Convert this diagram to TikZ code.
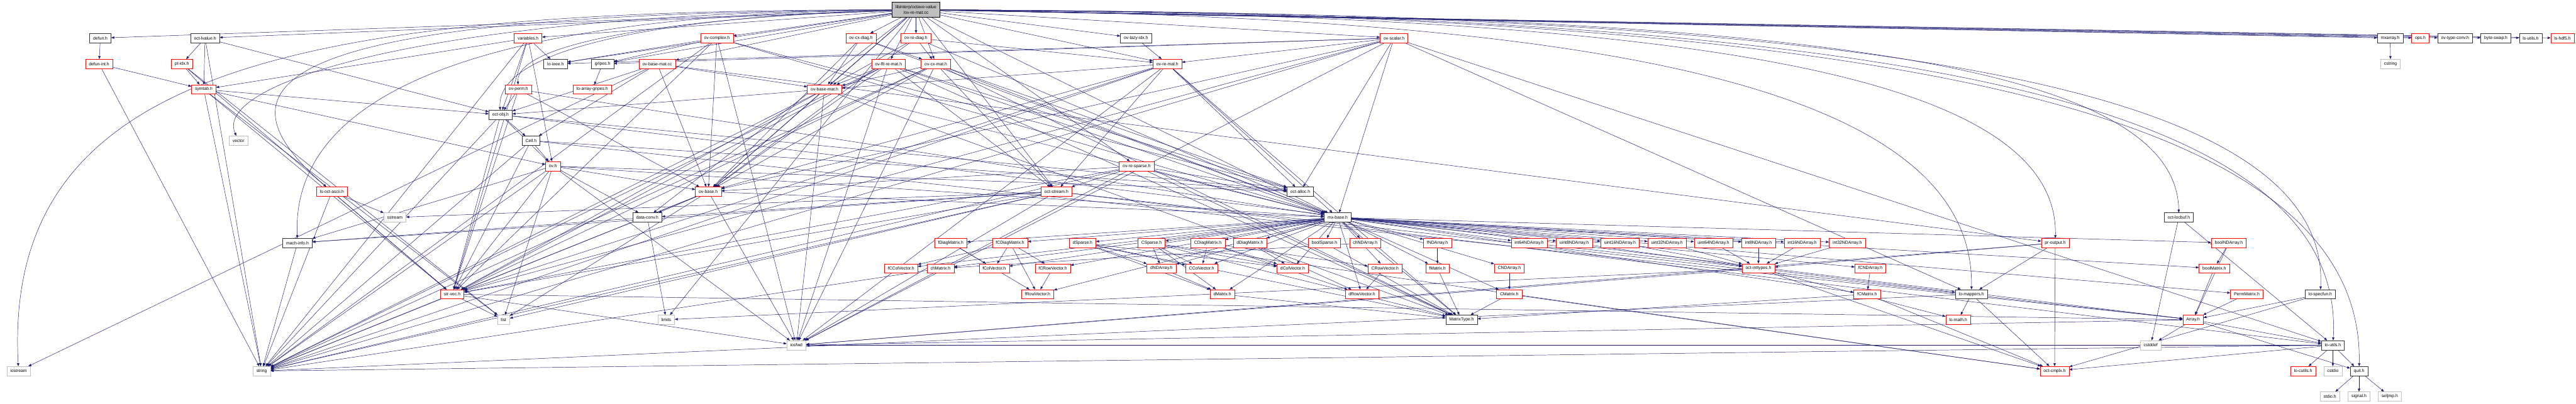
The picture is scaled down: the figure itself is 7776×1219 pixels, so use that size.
\documentclass[tikz,border=0pt]{standalone}
\usepackage{fontspec}
\setmainfont{Liberation Sans}
\usetikzlibrary{arrows.meta}
\definecolor{edgeblue}{HTML}{191970}
\definecolor{greyfill}{HTML}{BFBFBF}
\pgfdeclarelayer{bg}
\pgfsetlayers{bg,main}
\newcommand\mknode[5]{\node[#1] (#2) at (#3,-#4) {#5};}
\tikzset{
  nbox/.style={draw, line width=1pt, fill=white, font=\fontsize{13}{17}\selectfont,
    inner xsep=10.5pt, inner ysep=0pt, minimum height=28pt},
  rnode/.style={nbox, draw=red},
  bnode/.style={nbox, draw=black!80},
  gnode/.style={nbox, draw=greyfill},
  topnode/.style={nbox, draw=black, fill=greyfill, align=center, minimum height=45pt},
  dep/.style={draw=edgeblue, line width=0.9pt, -{Triangle[length=9pt,width=7pt]}}
}
\begin{document}
\begin{tikzpicture}[x=1pt,y=1pt]
\useasboundingbox (0,0) rectangle (7776,-1219);
% top
\node[topnode] (R) at (2765,-29.5) {libinterp/octave-value\\/ov-re-mat.cc};
% row 115
\mknode{bnode}{defun}{303}{115}{defun.h}
\mknode{bnode}{octlvalue}{619}{115}{oct-lvalue.h}
\mknode{rnode}{variables}{1594}{115}{variables.h}
\mknode{rnode}{ovcomplex}{2164}{115}{ov-complex.h}
\mknode{rnode}{ovcxdiag}{2599}{115}{ov-cx-diag.h}
\mknode{rnode}{ovrediag}{2765}{115}{ov-re-diag.h}
\mknode{bnode}{ovlazyidx}{3429}{115}{ov-lazy-idx.h}
\mknode{rnode}{ovscalar}{4208}{115}{ov-scalar.h}
\mknode{bnode}{mxarray}{7215}{115}{mxarray.h}
\mknode{rnode}{ops}{7306}{115}{ops.h}
\mknode{bnode}{ovtypeconv}{7411}{115}{ov-type-conv.h}
\mknode{bnode}{byteswap}{7534}{115}{byte-swap.h}
\mknode{bnode}{lsutils}{7639}{115}{ls-utils.h}
\mknode{rnode}{lshdf5}{7735}{115}{ls-hdf5.h}
% row 193
\mknode{rnode}{defunint}{299}{193}{defun-int.h}
\mknode{rnode}{ptidx}{549}{193}{pt-idx.h}
\mknode{bnode}{loieee}{1677}{193}{lo-ieee.h}
\mknode{bnode}{gripes}{1819}{193}{gripes.h}
\mknode{rnode}{ovbasematcc}{1984}{193}{ov-base-mat.cc}
\mknode{rnode}{ovfltremat}{2682}{193}{ov-flt-re-mat.h}
\mknode{rnode}{ovcxmat}{2825}{193}{ov-cx-mat.h}
\mknode{rnode}{ovremat}{3524}{193}{ov-re-mat.h}
\mknode{gnode}{cstring}{7216}{193}{cstring}
% row 270
\mknode{rnode}{symtab}{615}{270}{symtab.h}
\mknode{rnode}{ovperm}{1565}{270}{ov-perm.h}
\mknode{rnode}{loarraygripes}{1788}{270}{lo-array-gripes.h}
\mknode{rnode}{ovbasemat}{2489}{270}{ov-base-mat.h}
% row 347-502
\mknode{bnode}{octobj}{1511}{347}{oct-obj.h}
\mknode{gnode}{vector}{720}{425}{vector}
\mknode{bnode}{cell}{1603}{425}{Cell.h}
\mknode{rnode}{ovh}{1669}{502}{ov.h}
\mknode{rnode}{ovresparse}{3431}{502}{ov-re-sparse.h}
% row 579
\mknode{rnode}{lsoctascii}{1002}{579}{ls-oct-ascii.h}
\mknode{rnode}{ovbase}{2138}{579}{ov-base.h}
\mknode{rnode}{octstream}{3189}{579}{oct-stream.h}
\mknode{bnode}{octalloc}{3925}{579}{oct-alloc.h}
% row 657
\mknode{gnode}{sstream}{1192}{657}{sstream}
\mknode{bnode}{dataconv}{1954}{657}{data-conv.h}
\mknode{bnode}{mxbase}{4038}{657}{mx-base.h}
\mknode{bnode}{octlocbuf}{6577}{657}{oct-locbuf.h}
% row 734
\mknode{bnode}{machinfo}{898}{734}{mach-info.h}
\mknode{rnode}{fDiag}{2870}{734}{fDiagMatrix.h}
\mknode{rnode}{fCDiag}{3049}{734}{fCDiagMatrix.h}
\mknode{rnode}{dSparse}{3268}{734}{dSparse.h}
\mknode{rnode}{CSparse}{3476}{734}{CSparse.h}
\mknode{rnode}{CDiag}{3646}{734}{CDiagMatrix.h}
\mknode{rnode}{dDiag}{3773}{734}{dDiagMatrix.h}
\mknode{rnode}{boolSparse}{3998}{734}{boolSparse.h}
\mknode{rnode}{chND}{4121}{734}{chNDArray.h}
\mknode{rnode}{fND}{4339}{734}{fNDArray.h}
\mknode{rnode}{iSF}{4616}{734}{int64NDArray.h}
\mknode{rnode}{uE}{4752}{734}{uint8NDArray.h}
\mknode{rnode}{uS}{4890}{734}{uint16NDArray.h}
\mknode{rnode}{uT}{5032}{734}{uint32NDArray.h}
\mknode{rnode}{uSF}{5172}{734}{uint64NDArray.h}
\mknode{rnode}{iE}{5308}{734}{int8NDArray.h}
\mknode{rnode}{iS}{5440}{734}{int16NDArray.h}
\mknode{rnode}{iT}{5576}{734}{int32NDArray.h}
\mknode{rnode}{proutput}{6204}{734}{pr-output.h}
\mknode{rnode}{boolND}{6728}{734}{boolNDArray.h}
% row 811
\mknode{rnode}{fCColVec}{2720}{811}{fCColVector.h}
\mknode{rnode}{chMatrix}{2839}{811}{chMatrix.h}
\mknode{rnode}{fColVec}{3001}{811}{fColVector.h}
\mknode{rnode}{fCRowVec}{3178}{811}{fCRowVector.h}
\mknode{rnode}{dND}{3506}{811}{dNDArray.h}
\mknode{rnode}{CColVec}{3627}{811}{CColVector.h}
\mknode{rnode}{dColVec}{3902}{811}{dColVector.h}
\mknode{rnode}{CRowVec}{4181}{811}{CRowVector.h}
\mknode{rnode}{fMatrix}{4339}{811}{fMatrix.h}
\mknode{rnode}{CND}{4556}{811}{CNDArray.h}
\mknode{rnode}{octinttypes}{5308}{811}{oct-inttypes.h}
\mknode{rnode}{fCND}{5646}{811}{fCNDArray.h}
\mknode{rnode}{boolMatrix}{6684}{811}{boolMatrix.h}
% row 889
\mknode{rnode}{strvec}{1365}{889}{str-vec.h}
\mknode{rnode}{fRowVec}{3132}{889}{fRowVector.h}
\mknode{rnode}{dMatrix}{3690}{889}{dMatrix.h}
\mknode{rnode}{dRowVec}{4111}{889}{dRowVector.h}
\mknode{rnode}{CMatrix}{4556}{889}{CMatrix.h}
\mknode{rnode}{fCMatrix}{5636}{889}{fCMatrix.h}
\mknode{bnode}{lomappers}{5951}{889}{lo-mappers.h}
\mknode{rnode}{PermMatrix}{6782}{889}{PermMatrix.h}
\mknode{bnode}{lospecfun}{7004}{889}{lo-specfun.h}
% row 966
\mknode{gnode}{list}{1520}{966}{list}
\mknode{gnode}{limits}{2011}{966}{limits}
\mknode{bnode}{MatrixType}{4412}{966}{MatrixType.h}
\mknode{rnode}{lomath}{5911}{966}{lo-math.h}
\mknode{rnode}{Array}{6620}{966}{Array.h}
% row 1043
\mknode{gnode}{iosfwd}{2404}{1043}{iosfwd}
\mknode{gnode}{cstddef}{6492}{1043}{cstddef}
\mknode{bnode}{loutils}{7042}{1043}{lo-utils.h}
% row 1121
\mknode{gnode}{iostream}{56}{1121}{iostream}
\mknode{gnode}{string}{790}{1121}{string}
\mknode{rnode}{octcmplx}{6202}{1121}{oct-cmplx.h}
\mknode{rnode}{locutils}{6952}{1121}{lo-cutils.h}
\mknode{gnode}{cstdio}{7042}{1121}{cstdio}
\mknode{bnode}{quit}{7121}{1121}{quit.h}
% row 1198
\mknode{gnode}{stdio}{7033}{1198}{stdio.h}
\mknode{gnode}{signal}{7121}{1198}{signal.h}
\mknode{gnode}{setjmp}{7214}{1198}{setjmp.h}

\begin{pgfonlayer}{bg}
% edges from the top node
\foreach \b in {defun,octlvalue,variables,ovcomplex,ovcxdiag,ovrediag,ovlazyidx,ovscalar,
  mxarray,ops,ovtypeconv,byteswap,lsutils,lshdf5,loieee,gripes,ovbasematcc,ovfltremat,
  ovcxmat,ovremat,ovbasemat,ovbase,dataconv,limits,octstream,ovresparse,mxbase}
  \draw[dep] (R) -- (\b);
\draw[dep] (R) .. controls (900,-30) and (8,-200) .. (iostream);
\draw[dep] (R) .. controls (1300,-40) and (640,-250) .. (vector);
\draw[dep] (R) .. controls (1400,-45) and (880,-300) .. (machinfo);
\draw[dep] (R) .. controls (1000,-40) and (560,-200) .. (lsoctascii);
\draw[dep] (R) .. controls (2100,-45) and (1495,-130) .. (octobj);
\draw[dep] (R) .. controls (2100,-50) and (1555,-120) .. (ovperm);
\draw[dep] (R) .. controls (5200,-40) and (6570,-150) .. (octlocbuf);
\draw[dep] (R) .. controls (5000,-45) and (6215,-200) .. (proutput);
\draw[dep] (R) .. controls (4800,-50) and (5960,-250) .. (lomappers);
\draw[dep] (R) .. controls (5400,-40) and (7037,-200) .. (lospecfun);
\draw[dep] (R) .. controls (5500,-40) and (7086,-250) .. (loutils);
\draw[dep] (R) .. controls (5600,-40) and (7139,-300) .. (quit);
% other edges
\foreach \a/\b in {defun/defunint, defunint/symtab, defunint/string,
  octlvalue/ptidx, octlvalue/symtab, octlvalue/octobj, octlvalue/string,
  ptidx/symtab, ptidx/strvec, ptidx/list,
  symtab/octobj, symtab/ovh, symtab/list, symtab/string, symtab/strvec,
  variables/loieee, variables/ovh, variables/symtab, variables/string, variables/strvec, variables/octobj,
  ovcomplex/loieee, ovcomplex/gripes, ovcomplex/ovbase, ovcomplex/octalloc, ovcomplex/strvec,
  ovcomplex/mxbase, ovcomplex/iosfwd, ovcomplex/string,
  ovcxdiag/ovbasemat, ovcxdiag/ovcxmat, ovcxdiag/ovbase, ovcxdiag/mxbase,
  ovrediag/ovremat, ovrediag/ovcxmat, ovrediag/ovbase, ovrediag/ovbasemat, ovrediag/mxbase,
  ovlazyidx/ovremat,
  ovscalar/loieee, ovscalar/lomappers, ovscalar/loutils, ovscalar/mxbase, ovscalar/octalloc,
  ovscalar/strvec, ovscalar/gripes, ovscalar/ovbase, ovscalar/ovremat, ovscalar/iosfwd, ovscalar/string,
  mxarray/cstring,
  ovbasematcc/octobj, ovbasematcc/cell, ovbasematcc/ovbasemat, ovbasematcc/ovbase,
  ovbasematcc/iostream, ovbasematcc/proutput,
  gripes/loarraygripes,
  ovperm/octobj, ovperm/ovbase, ovperm/mxbase, ovperm/strvec,
  ovbasemat/iosfwd, ovbasemat/string, ovbasemat/mxbase, ovbasemat/MatrixType, ovbasemat/strvec,
  ovbasemat/octobj, ovbasemat/ovbase,
  octobj/cell, octobj/ovh, octobj/strvec, octobj/string, octobj/Array, octobj/octalloc,
  cell/ovh, cell/Array, cell/strvec, cell/octalloc, cell/string,
  ovh/iosfwd, ovh/string, ovh/list, ovh/dataconv, ovh/machinfo, ovh/mxbase, ovh/octalloc,
  ovh/strvec, ovh/ovbase,
  lsoctascii/sstream, lsoctascii/string, lsoctascii/strvec,
  ovbase/iosfwd, ovbase/list, ovbase/string, ovbase/dataconv, ovbase/mxbase, ovbase/strvec,
  octstream/iosfwd, octstream/sstream, octstream/string, octstream/Array, octstream/dataconv,
  octstream/loutils, octstream/machinfo, octstream/strvec, octstream/list,
  dataconv/limits, dataconv/machinfo,
  octlocbuf/cstddef, octlocbuf/loutils,
  machinfo/string,
  fDiag/fColVec, fDiag/fRowVec,
  fCDiag/fCColVec, fCDiag/fColVec, fCDiag/fCRowVec, fCDiag/fRowVec,
  dSparse/dND, dSparse/CColVec, dSparse/dColVec, dSparse/dMatrix, dSparse/MatrixType,
  CSparse/dND, CSparse/CColVec, CSparse/dColVec, CSparse/dMatrix, CSparse/MatrixType, CSparse/octcmplx,
  CDiag/CColVec, CDiag/dColVec, CDiag/CRowVec, CDiag/dRowVec,
  dDiag/dColVec, dDiag/dRowVec,
  boolSparse/MatrixType, chND/chMatrix, fND/fMatrix,
  iSF/octinttypes, uE/octinttypes, uS/octinttypes, uT/octinttypes, uSF/octinttypes,
  iE/octinttypes, iS/octinttypes, iT/octinttypes,
  boolND/boolMatrix, boolND/Array, chMatrix/string, fCRowVec/fRowVec, dND/dMatrix,
  CRowVec/dRowVec, fMatrix/MatrixType, CND/CMatrix,
  octinttypes/lomappers, octinttypes/lomath, octinttypes/limits, octinttypes/iosfwd, octinttypes/octcmplx,
  fCND/fCMatrix, boolMatrix/Array, dMatrix/MatrixType,
  CMatrix/MatrixType, CMatrix/octcmplx, fCMatrix/MatrixType, fCMatrix/octcmplx,
  lomappers/lomath, lomappers/octcmplx, lomappers/string,
  PermMatrix/Array, lospecfun/Array, lospecfun/octcmplx,
  proutput/lomappers, proutput/octcmplx, proutput/octinttypes, proutput/iosfwd,
  Array/cstddef, Array/loutils, Array/quit, Array/iosfwd,
  loutils/locutils, loutils/cstdio, loutils/quit, loutils/string, loutils/iosfwd, loutils/octcmplx,
  quit/stdio, quit/signal, quit/setjmp,
  strvec/list, strvec/iosfwd, strvec/string, strvec/Array}
  \draw[dep] (\a) -- (\b);
% matrix-type headers pulled in by mx-base.h
\foreach \b in {fDiag,fCDiag,dSparse,CSparse,CDiag,dDiag,boolSparse,chND,fND,iSF,uE,uS,uT,uSF,
  iE,iS,iT,boolND,fCColVec,chMatrix,fColVec,fCRowVec,dND,CColVec,dColVec,CRowVec,fMatrix,CND,
  fCND,boolMatrix,fRowVec,dMatrix,dRowVec,CMatrix,fCMatrix,PermMatrix,MatrixType}
  \draw[dep] (mxbase) -- (\b);
% type-specific value headers
\foreach \a in {ovfltremat,ovcxmat,ovremat,ovresparse}
  \foreach \b in {iosfwd,string,mxbase,strvec,octstream,ovbase,MatrixType,octalloc}
    \draw[dep] (\a) -- (\b);
\foreach \a in {ovfltremat,ovcxmat,ovremat}
  \draw[dep] (\a) -- (ovbasemat);
\end{pgfonlayer}
\end{tikzpicture}
\end{document}
